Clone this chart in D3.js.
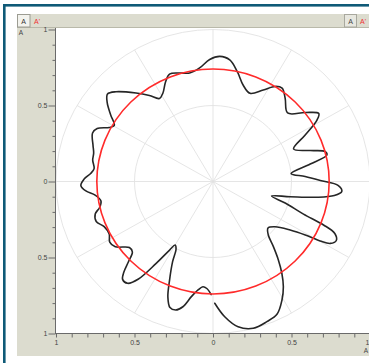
<!DOCTYPE html>
<html><head><meta charset="utf-8">
<script src="https://cdn.jsdelivr.net/npm/d3@7"></script>
<style>html,body{margin:0;padding:0;background:#fff;} svg{display:block;}</style>
</head><body>
<svg id="chart" width="369" height="363"></svg>
<script>
// Polar trace: angle in degrees (counter-clockwise from +x), radius in axis units
const traceAngle = [
  -89.2,-85.2,-80.5,-75.1,-69.6,-64.9,-60.6,-57.1,-54.0,-51.1,
  -48.1,-45.0,-41.1,-37.0,-33.0,-30.9,-29.8,-28.6,-26.3,-23.8,
  -22.1,-20.4,-17.1,-14.4,-11.5,-8.9,-6.8,-4.6,-1.9,0.6,
  3.2,6.0,10.5,13.5,15.4,18.2,22.6,27.5,31.4,33.6,
  37.7,43.5,50.0,54.4,57.7,62.0,67.9,73.2,77.9,82.4,
  87.0,91.5,96.5,101.8,106.6,111.4,114.8,118.7,122.0,125.6,
  130.1,136.3,139.4,142.5,146.1,149.6,151.7,154.7,157.4,162.6,
  166.1,169.6,173.6,176.1,178.9,181.8,184.4,186.8,190.2,193.3,
  195.9,199.5,203.2,207.6,211.2,214.6,219.2,222.1,224.5,226.4,
  228.2,230.9,233.5,236.1,238.5,240.0,242.1,244.0,246.9,249.3,
  251.7,254.3,256.9,259.7,262.4,264.7,266.8,269.1
];
const traceRadius = [
  0.801,0.893,0.969,0.999,0.984,0.963,0.895,0.825,0.746,0.663,
  0.576,0.498,0.465,0.495,0.586,0.685,0.787,0.851,0.876,0.848,
  0.760,0.615,0.481,0.385,0.501,0.670,0.778,0.823,0.799,0.683,
  0.588,0.500,0.630,0.746,0.742,0.652,0.556,0.662,0.776,0.809,
  0.742,0.655,0.715,0.756,0.740,0.682,0.626,0.663,0.739,0.807,
  0.824,0.803,0.752,0.729,0.745,0.759,0.721,0.664,0.644,0.696,
  0.761,0.855,0.885,0.849,0.785,0.729,0.750,0.816,0.831,0.801,
  0.783,0.779,0.762,0.781,0.821,0.842,0.812,0.756,0.725,0.742,
  0.780,0.789,0.754,0.746,0.769,0.756,0.687,0.692,0.756,0.823,
  0.864,0.863,0.798,0.649,0.529,0.483,0.503,0.587,0.705,0.813,
  0.873,0.878,0.846,0.770,0.720,0.695,0.705,0.744
];
// Reference circle radius
const refRadius = 0.74;
// Polar grid
const gridRadii = [0.5, 1];
const spokeAngles = d3.range(0, 360, 30);
// Axis ticks and labels
const tickValues = d3.range(-10, 11).map(d => d / 10);
const labelValues = [-1, -0.5, 0, 0.5, 1];
const labelTexts = ["1", "0.5", "0", "0.5", "1"];

const svg = d3.select("#chart");
const W = 369, H = 363;
const plot = {left: 56, top: 28, right: 369, bottom: 333.5};

const x = d3.scaleLinear().domain([-1, 1]).range([56, 370]);
const y = d3.scaleLinear().domain([-1, 1]).range([333.5, 29.5]);

svg.append("rect").attr("width", W).attr("height", H).attr("fill", "#fff");

// window frame
const frame = "#0f5a77";
svg.append("rect").attr("x", 3).attr("y", 4).attr("width", W - 3).attr("height", 2.6).attr("fill", frame);
svg.append("rect").attr("x", 3).attr("y", 4).attr("width", 2.6).attr("height", H - 4).attr("fill", frame);

// panel
svg.append("rect").attr("x", 17).attr("y", 14).attr("width", W - 17).attr("height", 342)
  .attr("fill", "#dcdccf");
svg.append("line").attr("x1", 17).attr("x2", W).attr("y1", 27.5).attr("y2", 27.5)
  .attr("stroke", "#b9b9aa").attr("stroke-width", 1);

// tab buttons
const btn = svg.append("g").attr("font-family", "Liberation Sans, Arial, sans-serif")
  .attr("font-size", 7).attr("text-anchor", "middle");
btn.append("rect").attr("x", 17.5).attr("y", 14.5).attr("width", 12.5).attr("height", 12.5)
  .attr("fill", "#f3f3ee").attr("stroke", "#9c9c92").attr("stroke-width", 1);
btn.append("text").attr("x", 23.7).attr("y", 24).attr("fill", "#333").text("A");
btn.append("text").attr("x", 37).attr("y", 24).attr("fill", "#f03030").text("A'");
btn.append("rect").attr("x", 344.5).attr("y", 14.5).attr("width", 12).attr("height", 12.5)
  .attr("fill", "#e7e7df").attr("stroke", "#a8a89e").attr("stroke-width", 1);
btn.append("text").attr("x", 350.5).attr("y", 24).attr("fill", "#444").text("A");
btn.append("text").attr("x", 363).attr("y", 24).attr("fill", "#f03030").text("A'");

// plot area
svg.append("rect").attr("x", plot.left).attr("y", plot.top)
  .attr("width", plot.right - plot.left).attr("height", plot.bottom - plot.top).attr("fill", "#fff");
svg.append("clipPath").attr("id", "plotclip").append("rect")
  .attr("x", plot.left).attr("y", plot.top)
  .attr("width", plot.right - plot.left).attr("height", plot.bottom - plot.top);

const g = svg.append("g").attr("clip-path", "url(#plotclip)");
const cx = x(0), cy = y(0);
const rx = r => x(r) - x(0), ry = r => y(0) - y(r);
const rad = a => a * Math.PI / 180;

// grid circles and spokes
g.selectAll("ellipse.grid").data(gridRadii).join("ellipse")
  .attr("class", "grid").attr("cx", cx).attr("cy", cy)
  .attr("rx", d => rx(d)).attr("ry", d => ry(d))
  .attr("fill", "none").attr("stroke", "#e2e2e2").attr("stroke-width", 0.9);
g.selectAll("line.spoke").data(spokeAngles).join("line")
  .attr("class", "spoke").attr("x1", cx).attr("y1", cy)
  .attr("x2", d => x(Math.cos(rad(d)))).attr("y2", d => y(Math.sin(rad(d))))
  .attr("stroke", "#e2e2e2").attr("stroke-width", 0.9);

// trace
const pts = traceAngle.map((a, i) => ({a, r: traceRadius[i]}));
const line = d3.line()
  .x(d => x(d.r * Math.cos(rad(d.a))))
  .y(d => y(d.r * Math.sin(rad(d.a))))
  .curve(d3.curveCatmullRom.alpha(0.5));
g.append("path").datum(pts).attr("d", line)
  .attr("fill", "none").attr("stroke", "#262626").attr("stroke-width", 1.6)
  .attr("stroke-linejoin", "round").attr("stroke-linecap", "round");

// reference circle
g.append("ellipse").attr("cx", cx).attr("cy", cy)
  .attr("rx", rx(refRadius)).attr("ry", ry(refRadius))
  .attr("fill", "none").attr("stroke", "#ff2b2b").attr("stroke-width", 1.6);

// axes
const fmt = d => {
  const k = labelValues.findIndex(v => Math.abs(v - d) < 1e-9);
  return k >= 0 ? labelTexts[k] : "";
};
const isMajor = d => labelValues.some(v => Math.abs(v - d) < 1e-9);

const yAxis = svg.append("g").attr("transform", "translate(55.5,0)")
  .call(d3.axisLeft(y).tickValues(tickValues).tickFormat(fmt).tickSizeOuter(0));
yAxis.select(".domain").attr("stroke", "#6a6a6a").attr("d", "M0,28V334");
yAxis.selectAll(".tick line").attr("stroke", "#6a6a6a")
  .attr("x2", d => isMajor(d) ? -7 : -3);
yAxis.selectAll(".tick text").attr("x", -8).attr("fill", "#444")
  .attr("font-size", 7).attr("font-family", "Liberation Sans, Arial, sans-serif");

const xAxis = svg.append("g").attr("transform", "translate(0,333.5)")
  .call(d3.axisBottom(x).tickValues(tickValues).tickFormat(fmt).tickSizeOuter(0));
xAxis.select(".domain").attr("stroke", "#6a6a6a").attr("d", "M55,0H369");
xAxis.selectAll(".tick line").attr("stroke", "#6a6a6a").attr("y2", 4);
xAxis.selectAll(".tick text").attr("y", 7).attr("fill", "#444")
  .attr("font-size", 7).attr("font-family", "Liberation Sans, Arial, sans-serif")
  .attr("dx", d => d === 1 ? -3 : 0);

// axis names
svg.append("text").attr("x", 21).attr("y", 35).attr("font-size", 6.5).attr("fill", "#444")
  .attr("text-anchor", "middle").attr("font-family", "Liberation Sans, Arial, sans-serif").text("A");
svg.append("text").attr("x", 366).attr("y", 353).attr("font-size", 6.5).attr("fill", "#444")
  .attr("text-anchor", "middle").attr("font-family", "Liberation Sans, Arial, sans-serif").text("A");
</script>
</body></html>
